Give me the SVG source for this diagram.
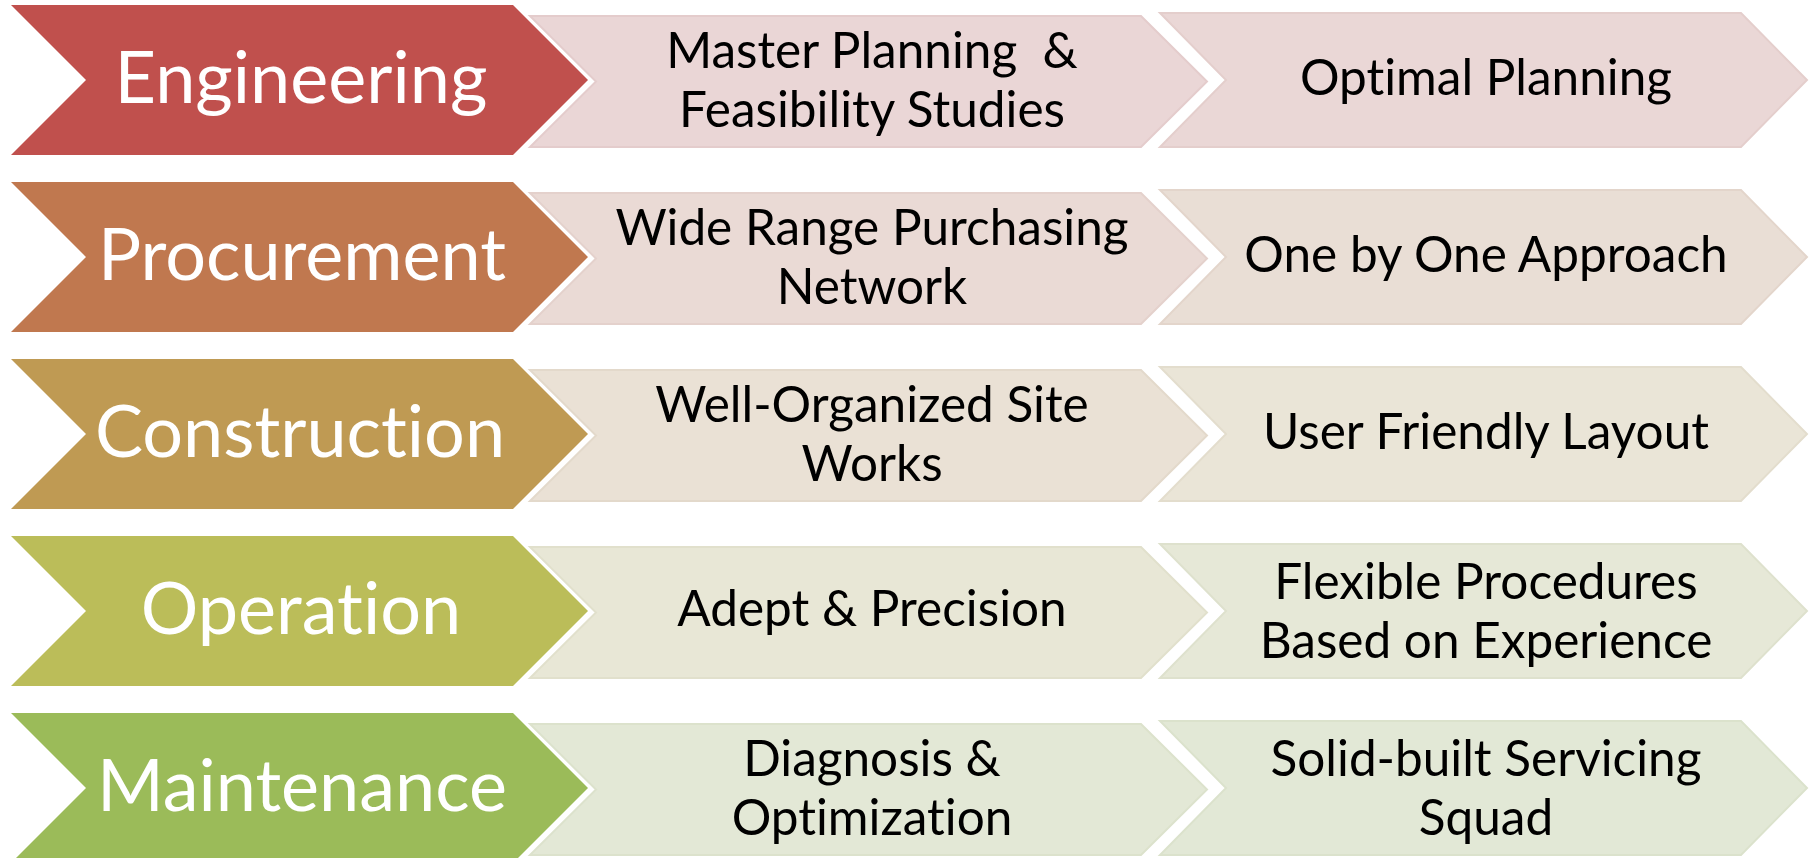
<svg xmlns="http://www.w3.org/2000/svg" width="1810" height="858" viewBox="0 0 1810 858">
<defs>
<style>
.lbl{font-family:Lato,"Open Sans","Liberation Sans",sans-serif;font-size:72px;fill:#FFFFFF;text-anchor:middle;font-variant-ligatures:none;font-feature-settings:"liga" 0,"clig" 0}
.txt{font-family:Lato,"Open Sans","Liberation Sans",sans-serif;font-size:49.5px;fill:#000000;text-anchor:middle;white-space:pre;font-variant-ligatures:none;font-feature-settings:"liga" 0,"clig" 0}
.lt{stroke-width:2;stroke-linejoin:miter}
</style>
<path id="big" d="M11,-75 L513,-75 L588,0 L513,75 L11,75 L86,0 Z"/>
<path id="mid" d="M530,-65.5 L1141,-65.5 L1207,0 L1141,65.5 L530,65.5 L596,0 Z"/>
<path id="end" d="M1160,-67 L1741,-67 L1807,0 L1741,67 L1160,67 L1226,0 Z"/>
</defs>
<rect width="1810" height="858" fill="#FFFFFF"/>
<g id="connectors"></g>

<g id="row-engineering" transform="translate(0,80)">
<g id="engineering"><use href="#big" fill="#C0504D"/><text class="lbl" x="301" y="23">Engineering</text></g>
<g id="master-planning"><use href="#mid" transform="translate(0,1.5)" fill="#EAD6D6" stroke="#E4CCCC" class="lt"/><text class="txt" x="872" y="-12" xml:space="preserve">Master Planning  &amp;</text><text class="txt" x="872" y="47">Feasibility Studies</text></g>
<g id="optimal-planning"><use href="#end" fill="#EAD7D6" stroke="#E4CECC" class="lt"/><text class="txt" x="1486" y="15">Optimal Planning</text></g>
</g>

<g id="row-procurement" transform="translate(0,257)">
<g id="procurement"><use href="#big" fill="#C0784F"/><text class="lbl" x="302" y="23">Procurement</text></g>
<g id="purchasing-network"><use href="#mid" transform="translate(0,1.5)" fill="#EADAD5" stroke="#E4D1CC" class="lt"/><text class="txt" x="872" y="-12">Wide Range Purchasing</text><text class="txt" x="872" y="47">Network</text></g>
<g id="one-by-one"><use href="#end" fill="#E9DED5" stroke="#E3D5CB" class="lt"/><text class="txt" x="1486" y="15">One by One Approach</text></g>
</g>

<g id="row-construction" transform="translate(0,434)">
<g id="construction"><use href="#big" fill="#BF9A53"/><text class="lbl" x="300" y="23">Construction</text></g>
<g id="site-works"><use href="#mid" transform="translate(0,1.5)" fill="#EAE1D5" stroke="#E3D9CB" class="lt"/><text class="txt" x="872" y="-12">Well-Organized Site</text><text class="txt" x="872" y="47">Works</text></g>
<g id="user-friendly"><use href="#end" fill="#EAE5D7" stroke="#E3DDCD" class="lt"/><text class="txt" x="1486" y="15">User Friendly Layout</text></g>
</g>

<g id="row-operation" transform="translate(0,611)">
<g id="operation"><use href="#big" fill="#BBBD59"/><text class="lbl" x="301" y="23">Operation</text></g>
<g id="adept-precision"><use href="#mid" transform="translate(0,1.5)" fill="#E8E7D6" stroke="#E1E0CC" class="lt"/><text class="txt" x="872" y="15">Adept &amp; Precision</text></g>
<g id="flexible-procedures"><use href="#end" fill="#E6E8D7" stroke="#DEE1CD" class="lt"/><text class="txt" x="1486" y="-12">Flexible Procedures</text><text class="txt" x="1486" y="47">Based on Experience</text></g>
</g>

<g id="row-maintenance" transform="translate(0,788)">
<g id="maintenance"><use href="#big" fill="#9BBB59"/><text class="lbl" x="302" y="23">Maintenance</text></g>
<g id="diagnosis"><use href="#mid" transform="translate(0,1.5)" fill="#E3E8D6" stroke="#DCE2CC" class="lt"/><text class="txt" x="872" y="-12">Diagnosis &amp;</text><text class="txt" x="872" y="47">Optimization</text></g>
<g id="servicing-squad"><use href="#end" fill="#E2E8D6" stroke="#DBE2CC" class="lt"/><text class="txt" x="1486" y="-12">Solid-built Servicing</text><text class="txt" x="1486" y="47">Squad</text></g>
</g>
</svg>
